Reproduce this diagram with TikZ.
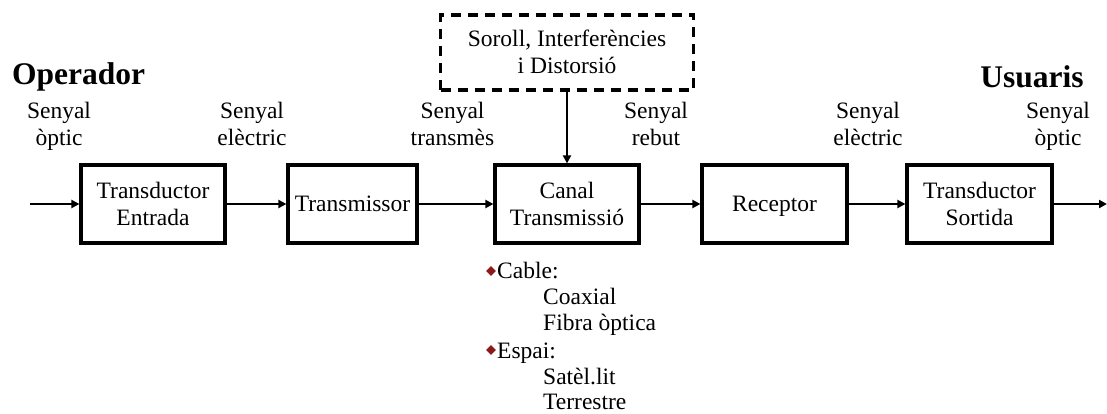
\documentclass[tikz,border=0pt]{standalone}
\usepackage{fontspec}
\setmainfont{Liberation Serif}
\usetikzlibrary{arrows.meta,shapes.geometric}
\definecolor{bulletred}{RGB}{140,26,26}
\newcommand{\ls}{\rule[-6pt]{0pt}{27pt}}
\begin{document}
\begin{tikzpicture}[x=1pt,y=-1pt,
  txt/.style={font=\fontsize{23.5}{27}\selectfont, align=center, inner sep=0pt},
  ttl/.style={font=\fontsize{31.5}{34}\selectfont\bfseries, inner sep=0pt},
  blk/.style={draw, line width=3.2pt, minimum height=78pt, txt},
  noisebox/.style={draw, line width=3.2pt, dash pattern=on 10pt off 7pt, minimum width=253pt, minimum height=75pt, txt},
  conn/.style={line width=2.8pt, -{Triangle[length=8pt,width=8pt]}},
  bul/.style={diamond, fill=bulletred, minimum size=10pt, inner sep=0pt},
  item/.style={txt, anchor=west}]
\useasboundingbox (0,0) rectangle (1107,414);
% blocks
\node[blk, minimum width=144pt] (te) at (153,204) {\ls Transductor\\\ls Entrada};
\node[blk, minimum width=129pt] (tx) at (352.5,204) {\ls Transmissor};
\node[blk, minimum width=144pt] (ch) at (567,204) {\ls Canal\\\ls Transmissió};
\node[blk, minimum width=145pt] (rx) at (774.5,204) {\ls Receptor};
\node[blk, minimum width=145pt] (ts) at (979.5,204) {\ls Transductor\\\ls Sortida};
\node[noisebox] (nz) at (567,52.5) {\ls Soroll, Interferències\\\ls i Distorsió};
\coordinate (in) at (30,204);
\coordinate (out) at (1107,204);
% connectors
\draw[conn] (in) -- (te);
\draw[conn] (te) -- (tx);
\draw[conn] (tx) -- (ch);
\draw[conn] (ch) -- (rx);
\draw[conn] (rx) -- (ts);
\draw[conn] (ts) -- (out);
\draw[conn] (nz) -- (ch);
% titles
\node[ttl, anchor=west] (op) at (12,77) {Operador};
\node[ttl] (us) at (1032,77) {Usuaris};
% signal labels
\node[txt] (s1) at (59,125) {\ls Senyal\\\ls òptic};
\node[txt] (s2) at (252,125) {\ls Senyal\\\ls elèctric};
\node[txt] (s3) at (452.5,125) {\ls Senyal\\\ls transmès};
\node[txt] (s4) at (656,125) {\ls Senyal\\\ls rebut};
\node[txt] (s5) at (868,125) {\ls Senyal\\\ls elèctric};
\node[txt] (s6) at (1058,125) {\ls Senyal\\\ls òptic};
% list
\node[bul] (b1) at (491,271) {};
\node[item] (cable) at (497,271) {\ls Cable:};
\node[item] (coax) at (543,297) {\ls Coaxial};
\node[item] (fibra) at (543,323) {\ls Fibra òptica};
\node[bul] (b2) at (491,350) {};
\node[item] (espai) at (497,351) {\ls Espai:};
\node[item] (sat) at (543,377) {\ls Satèl.lit};
\node[txt, anchor=base west] (terr) at (543,409) {Terrestre};
\end{tikzpicture}
\end{document}
